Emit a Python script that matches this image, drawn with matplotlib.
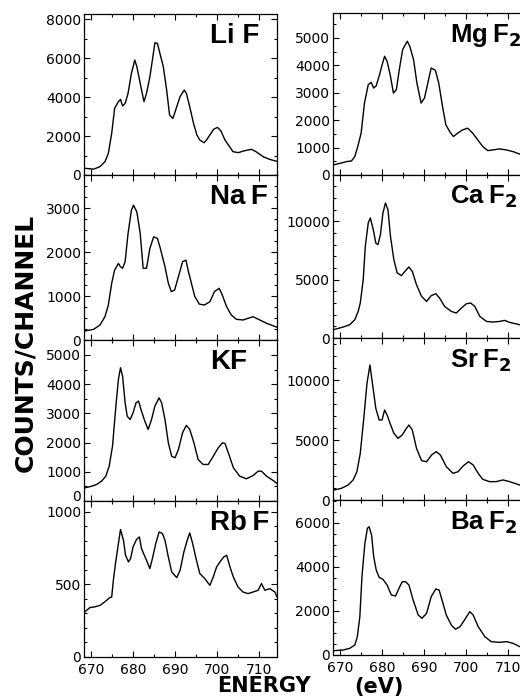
import matplotlib
matplotlib.use("Agg")
import matplotlib.pyplot as plt
from matplotlib.ticker import MultipleLocator

# ---- data (energy in eV, counts/channel) ----
lif_e = [668.3, 670.6, 672.1, 673.3, 674.1, 674.9, 675.6, 676.5, 677.0, 677.5,
         678.1, 678.8, 679.6, 680.4, 680.9, 681.7, 682.6, 683.2, 684.0, 684.6,
         685.2, 685.8, 686.4, 687.2, 688.0, 688.7, 689.5, 690.4, 691.2, 692.2,
         692.7, 693.5, 694.4, 695.2, 695.9, 696.9, 697.5, 698.3, 699.2, 700.1,
         700.9, 701.9, 703.0, 703.8, 705.1, 706.6, 708.2, 709.3, 711.0, 712.6,
         714.3]
lif_counts = [350, 300, 430, 685, 1110, 2140, 3430, 3770, 3890, 3550,
              3680, 4200, 5230, 5910, 5570, 4710, 3770, 4200, 5050, 5910,
              6800, 6770, 6250, 5570, 4370, 3080, 2910, 3510, 4030, 4370,
              4200, 3510, 2660, 2060, 1800, 1660, 1800, 2060, 2350, 2450,
              2280, 1800, 1460, 1200, 1150, 1250, 1320, 1200, 940, 800,
              700]

naf_e = [668.3, 670.6, 672.1, 673.3, 674.1, 674.9, 675.6, 676.5, 677.0, 677.5,
         678.1, 678.8, 679.6, 680.1, 680.9, 681.7, 682.4, 683.2, 684.0, 684.9,
         685.8, 686.5, 687.6, 688.4, 689.1, 689.9, 690.8, 691.8, 692.6, 693.1,
         693.9, 694.7, 695.8, 697.0, 698.3, 699.4, 700.5, 701.1, 702.3, 703.4,
         704.6, 706.2, 708.6, 710.2, 711.8, 714.3]
naf_counts = [200, 243, 340, 530, 795, 1290, 1590, 1740, 1665, 1630,
              1780, 2420, 2950, 3065, 2910, 2420, 1630, 1630, 2080, 2345,
              2310, 2080, 1665, 1290, 1100, 1135, 1440, 1780, 1815, 1590,
              1290, 990, 815, 795, 870, 1100, 1175, 1060, 755, 570,
              470, 455, 530, 455, 380, 290]

kf_e = [668.5, 670.1, 671.3, 672.5, 673.5, 674.3, 675.1, 675.9, 676.5, 677.0,
        677.5, 678.1, 678.6, 679.3, 680.0, 680.7, 681.3, 682.0, 682.8, 683.6,
        684.4, 685.2, 686.2, 686.8, 687.6, 688.4, 689.2, 690.0, 690.8, 691.8,
        692.7, 693.5, 694.5, 695.5, 696.7, 697.9, 699.1, 700.3, 701.3, 701.9,
        702.7, 703.9, 705.4, 707.0, 708.6, 709.8, 710.6, 711.8, 713.4, 714.3]
kf_counts = [450, 505, 565, 680, 850, 1190, 1880, 3250, 4160, 4560,
             4270, 3360, 2900, 2790, 3020, 3360, 3420, 3080, 2730, 2450,
             2790, 3250, 3530, 3360, 2790, 1990, 1530, 1480, 1760, 2340,
             2590, 2450, 1990, 1420, 1250, 1250, 1530, 1820, 1990, 1970,
             1650, 1140, 850, 760, 870, 1020, 1020, 850, 700, 600]

rbf_e = [668.5, 669.7, 670.9, 672.1, 673.3, 674.5, 674.9, 675.3, 675.8, 676.5,
         677.0, 677.7, 678.2, 678.9, 679.4, 680.0, 680.8, 681.5, 682.0, 683.2,
         684.0, 684.6, 685.4, 686.2, 687.0, 687.6, 688.4, 689.2, 690.4, 691.2,
         692.1, 692.9, 693.5, 694.2, 695.0, 695.9, 697.1, 698.3, 699.1, 699.9,
         700.7, 701.6, 702.3, 703.1, 703.9, 705.0, 706.2, 707.4, 708.6, 709.8,
         710.6, 711.4, 712.6, 713.8, 714.3]
rbf_counts = [310, 340, 345, 355, 380, 410, 412, 528, 643, 780,
              877, 803, 700, 654, 677, 757, 808, 826, 746, 665,
              608, 677, 780, 860, 849, 803, 688, 585, 546, 596,
              722, 803, 853, 780, 677, 574, 539, 493, 550, 619,
              654, 688, 700, 619, 550, 482, 447, 436, 447, 459,
              505, 459, 470, 447, 413]

mgf2_e = [668.3, 670.0, 671.5, 672.7, 673.5, 674.2, 675.0, 675.8, 676.7, 677.4,
          678.0, 678.6, 679.4, 679.9, 680.6, 681.2, 682.0, 682.7, 683.4, 684.1,
          684.9, 686.0, 686.6, 687.5, 688.3, 689.3, 690.1, 690.9, 691.7, 692.7,
          693.5, 694.4, 695.2, 696.1, 697.0, 698.0, 699.2, 700.4, 701.6, 702.8,
          704.0, 705.2, 706.4, 708.0, 709.6, 711.2, 712.7, 714.3]
mgf2_counts = [366, 427, 488, 512, 671, 1037, 1525, 2623, 3294, 3380,
               3172, 3257, 3660, 3965, 4331, 4148, 3600, 2989, 3111, 3843,
               4575, 4880, 4697, 4209, 3355, 2623, 2806, 3355, 3904, 3819,
               3355, 2501, 1830, 1586, 1403, 1525, 1647, 1708, 1525, 1281,
               1037, 890, 915, 951, 915, 854, 768, 740]

caf2_e = [668.3, 670.7, 672.3, 673.5, 674.3, 674.8, 675.5, 676.0, 676.7, 677.2,
          677.9, 678.5, 679.0, 679.6, 680.2, 680.8, 681.4, 682.0, 682.8, 683.6,
          684.6, 685.8, 686.4, 687.2, 688.2, 689.4, 690.6, 691.7, 692.8, 693.7,
          694.9, 696.5, 697.7, 698.9, 700.1, 701.1, 702.1, 703.3, 704.9, 706.4,
          708.0, 709.2, 710.4, 712.8, 714.3]
caf2_counts = [700, 940, 1140, 1570, 2280, 3000, 5000, 7860, 9870, 10300,
               9290, 8150, 8000, 8860, 10720, 11580, 11000, 8720, 6720, 5580,
               5350, 5860, 6090, 5710, 4570, 3570, 3140, 3630, 3800, 3430,
               2710, 2280, 2140, 2570, 2940, 3000, 2710, 1850, 1420, 1370,
               1420, 1510, 1340, 1140, 1050]

srf2_e = [668.5, 670.3, 671.9, 673.1, 674.0, 674.8, 675.6, 676.4, 677.1, 677.7,
          678.5, 679.3, 680.0, 680.6, 681.2, 681.9, 682.8, 683.8, 684.8, 685.8,
          686.4, 687.2, 688.2, 689.4, 690.6, 691.8, 692.9, 693.9, 695.3, 696.9,
          698.1, 699.3, 700.6, 701.7, 702.9, 704.0, 705.6, 707.2, 708.8, 710.4,
          712.8, 714.3]
srf2_counts = [830, 970, 1250, 1670, 2360, 3890, 6670, 9720, 11250, 9720,
               7640, 6670, 6670, 7500, 7080, 6390, 5560, 5140, 5420, 5970,
               6250, 5830, 4310, 3280, 3190, 3750, 4030, 3750, 2780, 2220,
               2360, 2830, 3190, 2920, 2220, 1720, 1530, 1530, 1670, 1530,
               1250, 1100]

baf2_e = [668.7, 670.7, 672.3, 673.5, 674.1, 674.7, 675.2, 675.9, 676.5, 676.9,
          677.5, 678.0, 678.6, 679.3, 680.2, 681.2, 682.2, 683.2, 684.2, 684.8,
          685.6, 686.4, 687.4, 688.6, 689.5, 690.6, 691.7, 692.8, 693.6, 694.4,
          695.3, 696.5, 697.5, 698.6, 699.9, 700.9, 701.7, 702.9, 704.5, 706.0,
          708.0, 709.7, 711.2, 712.8, 714.3]
baf2_counts = [200, 227, 303, 455, 833, 1740, 3560, 5075, 5760, 5830,
               5450, 4470, 3860, 3530, 3440, 3180, 2730, 2680, 3100, 3330,
               3330, 3180, 2500, 1820, 1670, 1890, 2650, 3000, 2950, 2420,
               1820, 1360, 1170, 1290, 1670, 1970, 1820, 1290, 833, 606,
               576, 606, 530, 380, 330]

labels = ["Li F", "Na\u2009F", "KF", "Rb\u2009F",
          "Mg\u2009F$_\\mathbf{2}$", "Ca\u2009F$_\\mathbf{2}$",
          "Sr\u2009F$_\\mathbf{2}$", "Ba\u2009F$_\\mathbf{2}$"]
y_tops = [8280, 3750, 5510, 1073, 5910, 13980, 13500, 7045]
y_major = [2000, 1000, 1000, 500, 1000, 5000, 5000, 2000]
y_minor = [1000, 250, 500, 100, 500, 1000, 1000, 500]
x_ticks = [670, 680, 690, 700, 710]

W, H = 520, 696
fig = plt.figure(figsize=(W / 100, H / 100), dpi=100)
fig.patch.set_facecolor("white")

# (left px, top px, bottom px) for each panel, column by column
frames = [(84, 14, 175), (84, 175, 340), (84, 340, 501), (84, 501, 657),
          (333, 13, 175), (333, 175, 338), (333, 338, 500), (333, 500, 655)]
series = [(lif_e, lif_counts), (naf_e, naf_counts), (kf_e, kf_counts), (rbf_e, rbf_counts),
          (mgf2_e, mgf2_counts), (caf2_e, caf2_counts), (srf2_e, srf2_counts), (baf2_e, baf2_counts)]

axes = []
for i, ((left, top, bottom), (e, c)) in enumerate(zip(frames, series)):
    ax = fig.add_axes([left / W, 1 - bottom / H, 193 / W, (bottom - top) / H])
    axes.append(ax)
    ax.plot(e, c, color="black", lw=1.0)
    ax.set_xlim(668.3, 714.3)
    ax.set_ylim(0, y_tops[i])
    ax.xaxis.set_major_locator(MultipleLocator(10))
    ax.xaxis.set_minor_locator(MultipleLocator(5))
    ax.yaxis.set_major_locator(MultipleLocator(y_major[i]))
    ax.yaxis.set_minor_locator(MultipleLocator(y_minor[i]))
    ax.tick_params(which="both", direction="in", top=True, right=True,
                   labelsize=10, width=0.8)
    ax.tick_params(axis="y", pad=2)
    ax.tick_params(axis="x", pad=4)
    ax.tick_params(which="major", length=4)
    ax.tick_params(which="minor", length=2.2)
    for s in ax.spines.values():
        s.set_linewidth(0.9)
    if i % 4 == 3:
        ax.set_xticks(x_ticks)
        ax.set_xticklabels([str(t) for t in x_ticks])
    else:
        ax.set_xticklabels([])
    if left == 84:
        tx, size = (210 - 84) / 193, 20
    else:
        tx, size = (450 - 333) / 193, 18.5
    ax.text(tx, 1 - 29 / (bottom - top), labels[i], transform=ax.transAxes,
            ha="left", va="baseline", fontsize=size, fontweight="bold",
            family=["Liberation Sans", "DejaVu Sans"])

fig.text(25 / W, 1 - 343 / H, "COUNTS/CHANNEL", rotation=90, ha="center", va="center",
         fontsize=18, fontweight="bold")
fig.text(264 / W, 1 - 686 / H, "ENERGY", ha="center", va="center",
         fontsize=15, fontweight="bold")
fig.text(379 / W, 1 - 687 / H, "(eV)", ha="center", va="center",
         fontsize=15, fontweight="bold")

# the KF zero sits a little above its axis so it clears RbF's 1000
fig.canvas.draw()
for lab in axes[2].get_yticklabels():
    if lab.get_text() == "0":
        lab.set_va("baseline")

fig.savefig("out.png", dpi=100)
